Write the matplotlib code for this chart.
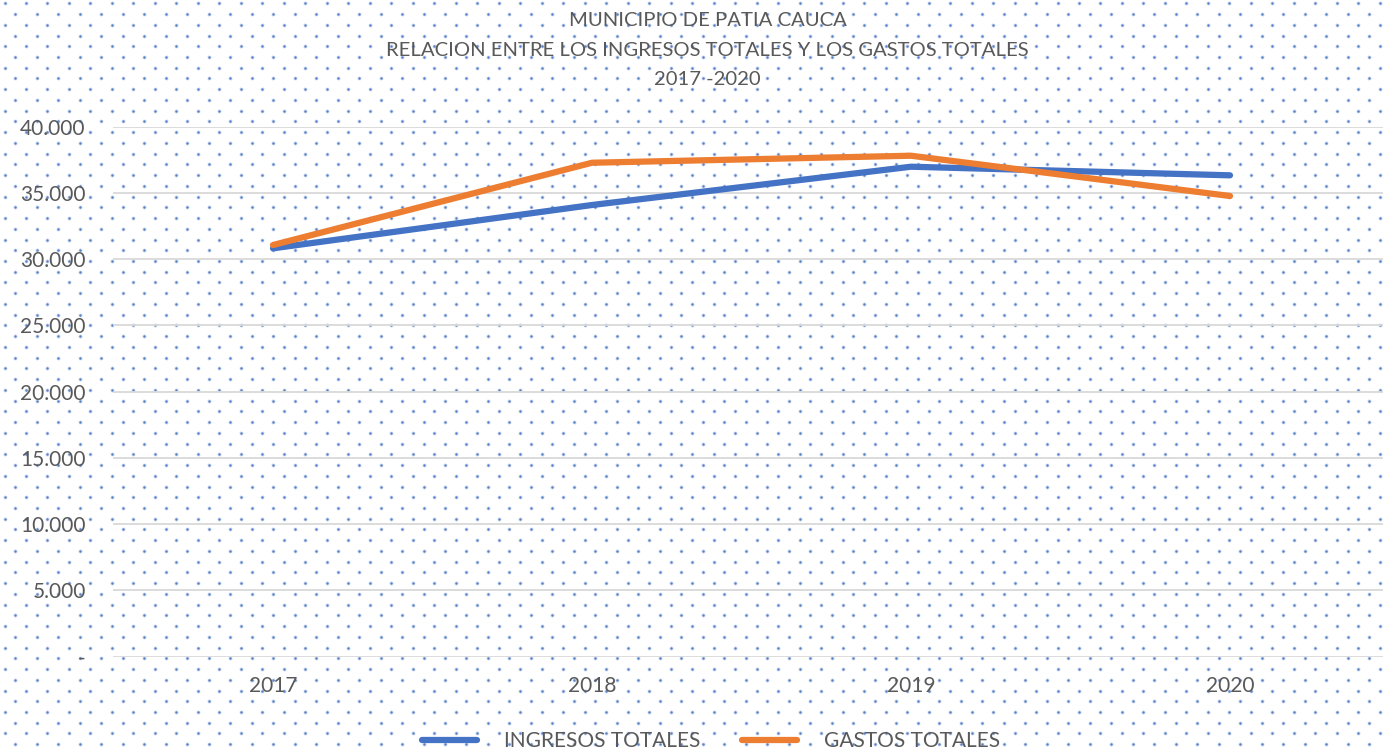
import numpy as np
import matplotlib
matplotlib.use("Agg")
import matplotlib.pyplot as plt
from matplotlib.ticker import FuncFormatter, MultipleLocator

# ---- data ----
years = ["2017", "2018", "2019", "2020"]
ingresos = [30820, 34090, 36980, 36330]
gastos = [31070, 37280, 37810, 34770]
title_lines = ["MUNICIPIO DE PATIA CAUCA",
               "RELACION ENTRE LOS INGRESOS TOTALES Y LOS GASTOS TOTALES",
               "2017 -2020"]
labels = ["INGRESOS TOTALES", "GASTOS TOTALES"]

W, H = 1383, 750
DPI = 100
plt.rcParams['font.family'] = ['Lato', 'DejaVu Sans']
TXT = '#595959'
BLUE = '#4472C4'
ORANGE = '#ED7D31'

fig = plt.figure(figsize=(W / DPI, H / DPI), dpi=DPI)
fig.patch.set_facecolor('white')

# ---- dotted background pattern (decorative) ----
bg = fig.add_axes([0, 0, 1, 1], zorder=0)
bg.set_xlim(0, W)
bg.set_ylim(H, 0)
bg.axis('off')
px, py = [], []
rows = np.arange(3.3, H + 11, 10.738)
for k, yy in enumerate(rows):
    x0 = 4.5 if k % 2 == 0 else 15.2
    xs = np.arange(x0, W + 22, 21.49)
    px.extend(xs)
    py.extend([yy] * len(xs))
bg.scatter(px, py, s=9, color='#B4C7E7', alpha=0.5, linewidths=0)
bg.scatter(px, py, s=3.2, color=BLUE, alpha=0.85, linewidths=0)

# ---- main axes ----
left = 113.5 / W
right = 1389.5 / W
bottom = 1 - 656.7 / H
top = 1 - 126.7 / H
ax = fig.add_axes([left, bottom, right - left, top - bottom], zorder=1)
ax.patch.set_alpha(0)
x = np.arange(len(years))
ax.plot(x, ingresos, color=BLUE, lw=4.5, solid_capstyle='round',
        solid_joinstyle='round', label=labels[0], zorder=3)
ax.plot(x, gastos, color=ORANGE, lw=4.5, solid_capstyle='round',
        solid_joinstyle='round', label=labels[1], zorder=4)

ax.set_xlim(-0.5, len(years) - 0.5)
ax.set_ylim(0, 40000)
ax.yaxis.set_major_locator(MultipleLocator(5000))
ax.yaxis.set_major_formatter(FuncFormatter(
    lambda v, p: '-' if v == 0 else f"{int(v):,}".replace(',', '.')))
ax.set_xticks(x)
ax.set_xticklabels(years)
ax.grid(axis='y', color='#D9D9D9', lw=1.3, zorder=0)
ax.set_axisbelow(True)
for s in ax.spines.values():
    s.set_visible(False)
ax.tick_params(axis='both', length=0, labelsize=15, labelcolor=TXT)
ax.tick_params(axis='y', pad=20)
ax.tick_params(axis='x', pad=14)

# ---- title ----
for i, line in enumerate(title_lines):
    fig.text(707.5 / W, 1 - (20.5 + 29.6 * i) / H, line, ha='center',
             va='center', fontsize=14.6, color=TXT)

# ---- legend ----
leg = fig.legend(loc='center', bbox_to_anchor=(711 / W, 1 - 741 / H), ncol=2,
                 frameon=False, fontsize=15, handlelength=2.64,
                 handletextpad=1.3, columnspacing=2.0, borderpad=0,
                 labelcolor=TXT)

fig.savefig('out.png', dpi=DPI, facecolor='white')
